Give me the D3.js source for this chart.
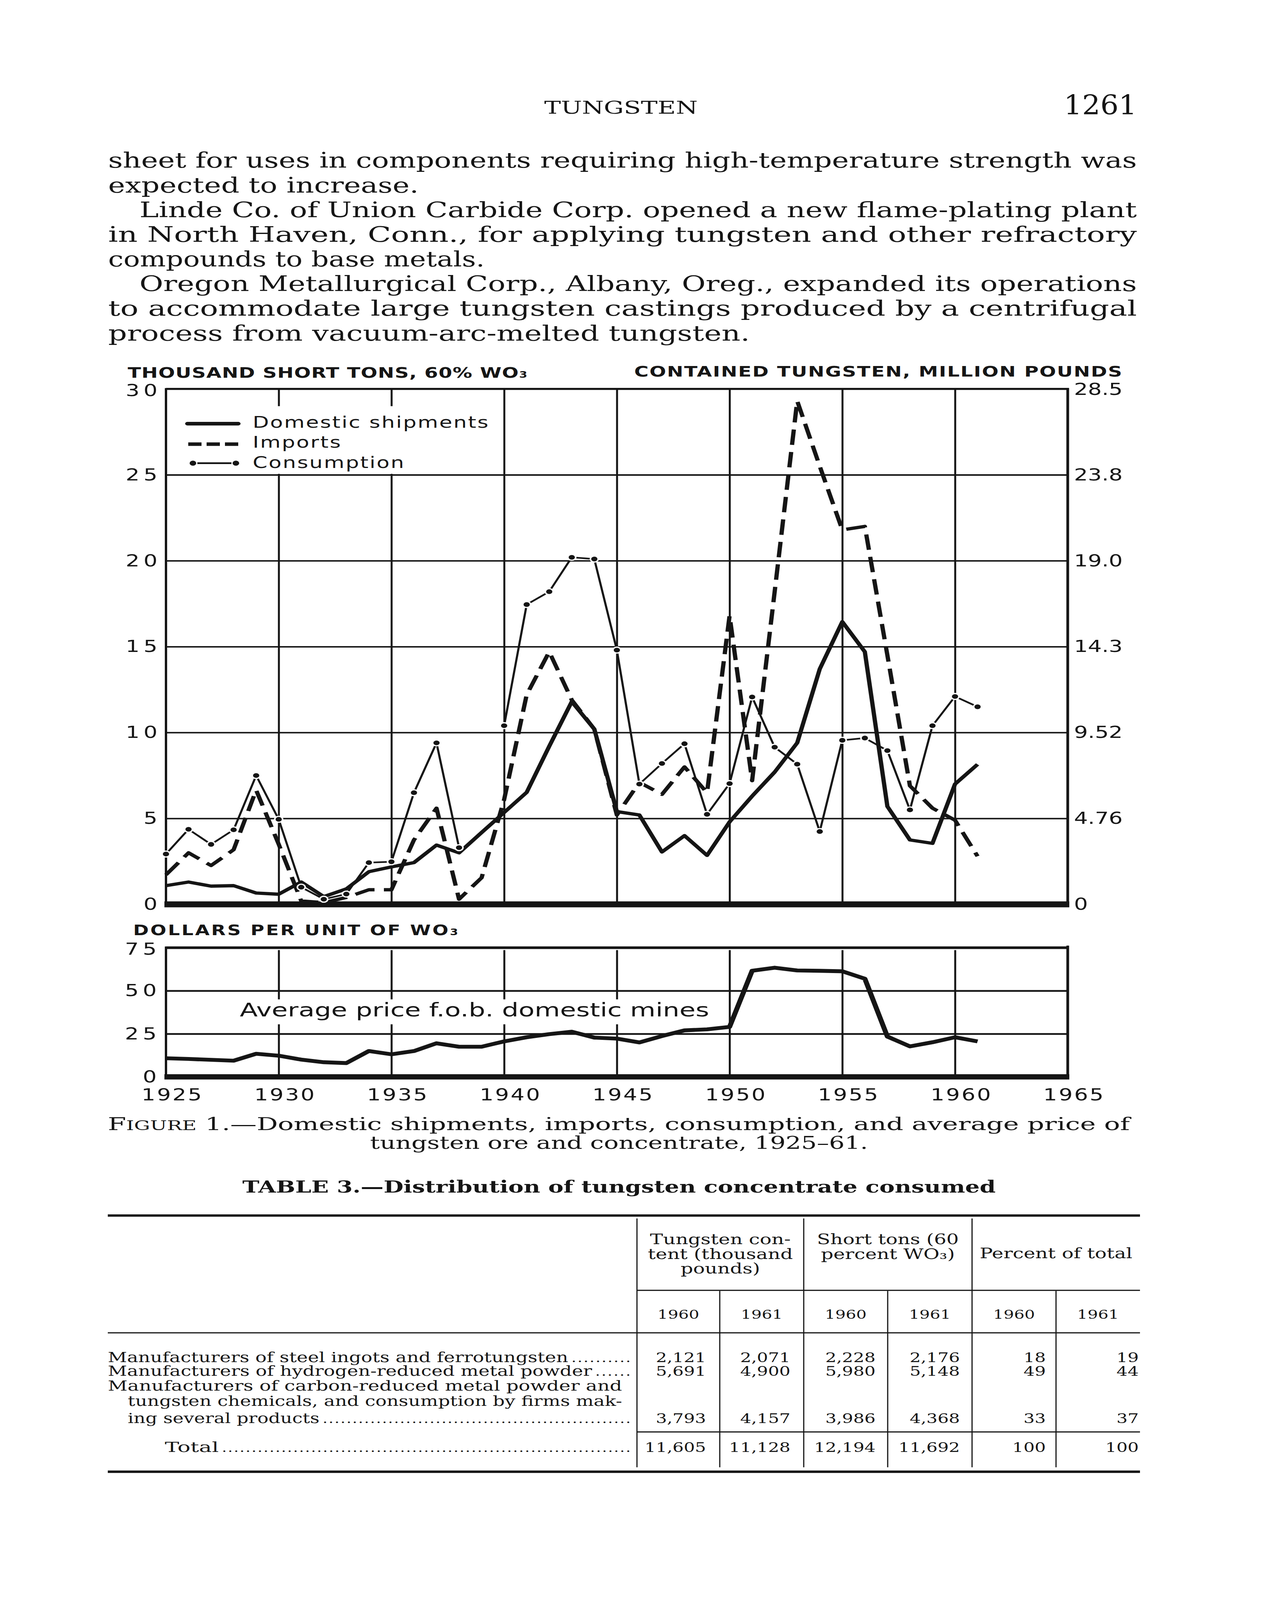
<!DOCTYPE html>
<html>
<head>
<meta charset="utf-8">
<script src="https://cdn.jsdelivr.net/npm/d3@7"></script>
<style>
  html, body { margin: 0; padding: 0; background: #fff; overflow: hidden; }
  svg { display: block; }
  .sans { font-family: "DejaVu Sans", sans-serif; }
  .serif { font-family: "DejaVu Serif", serif; }
</style>
</head>
<body>
<svg id="page"></svg>
<script>
// ---- data ----
const years = [1925,1926,1927,1928,1929,1930,1931,1932,1933,1934,1935,1936,1937,1938,1939,1940,1941,1942,1943,
  1944,1945,1946,1947,1948,1949,1950,1951,1952,1953,1954,1955,1956,1957,1958,1959,1960,1961];

// thousand short tons, 60% WO3
const domestic = [1.09,1.30,1.06,1.09,0.66,0.59,1.3,0.45,0.9,1.9,2.18,2.43,3.45,3.0,4.18,5.35,6.52,9.2,11.8,
  10.2,5.4,5.2,3.05,4.0,2.85,4.8,6.3,7.7,9.4,13.7,16.45,14.7,5.7,3.75,3.55,7.0,8.15];
const imports = [1.72,3.0,2.26,3.18,6.65,3.5,0.2,0.1,0.4,0.85,0.85,3.75,5.6,0.3,1.55,6.1,12.2,14.7,11.9,
  10.2,5.2,7.1,6.4,8.0,6.5,16.8,7.2,18.2,29.3,25.5,21.8,22.0,14.5,6.9,5.6,4.9,2.8];
const consumption = [2.93,4.37,3.49,4.34,7.5,4.95,1.0,0.3,0.6,2.43,2.48,6.5,9.4,3.3,null,10.4,17.45,18.2,20.2,
  20.1,14.8,7.0,8.2,9.35,5.24,7.03,12.07,9.15,8.16,4.24,9.55,9.68,8.95,5.5,10.4,12.1,11.5];

// dollars per unit of WO3
const price = [10.8,10.4,9.9,9.4,13.4,12.3,10.0,8.5,8.0,15.0,13.1,15.0,19.5,17.5,17.5,20.6,23.0,24.8,26.2,
  22.8,22.2,20.0,23.7,27.0,27.6,29.0,61.6,63.4,61.8,61.6,61.3,57.0,23.4,17.7,20.1,23.0,20.6];

const leftTicks = [0,5,10,15,20,25,30];
const rightTickLabels = ["0","4.76","9.52","14.3","19.0","23.8","28.5"];
const priceTicks = [0,25,50,75];
const yearTicks = [1925,1930,1935,1940,1945,1950,1955,1960,1965];
const gridYears = [1930,1935,1940,1945,1950,1955,1960];
const seriesNames = ["Domestic shipments","Imports","Consumption"];

const bodyLines = [
  "sheet for uses in components requiring high-temperature strength was",
  "expected to increase.",
  "Linde Co. of Union Carbide Corp. opened a new flame-plating plant",
  "in North Haven, Conn., for applying tungsten and other refractory",
  "compounds to base metals.",
  "Oregon Metallurgical Corp., Albany, Oreg., expanded its operations",
  "to accommodate large tungsten castings produced by a centrifugal",
  "process from vacuum-arc-melted tungsten."
];

const tableHead = [["Tungsten con-","tent (thousand","pounds)"],["Short tons (60","percent WO₃)"],["Percent of total"]];
const tableYears = ["1960","1961","1960","1961","1960","1961"];
const tableRows = [
  { label: ["Manufacturers of steel ingots and ferrotungsten"], values: ["2,121","2,071","2,228","2,176","18","19"] },
  { label: ["Manufacturers of hydrogen-reduced metal powder"], values: ["5,691","4,900","5,980","5,148","49","44"] },
  { label: ["Manufacturers of carbon-reduced metal powder and","tungsten chemicals, and consumption by firms mak-","ing several products"],
    values: ["3,793","4,157","3,986","4,368","33","37"] }
];
const tableTotal = ["11,605","11,128","12,194","11,692","100","100"];

// ---- page ----
// drawn in page units (3298 x 5389) and fitted to whatever viewport we get
const W = 3298, H = 5389;
const ink = "#151515";

const svg = d3.select("#page")
  .attr("width", window.innerWidth || W)
  .attr("height", window.innerHeight || H)
  .attr("viewBox", `0 0 ${W} ${H}`)
  .attr("preserveAspectRatio", "none");

svg.append("rect").attr("width", W).attr("height", H).attr("fill", "#fff");

// running head
svg.append("text").attr("class", "serif")
  .attr("x", 1590).attr("y", 383).attr("text-anchor", "middle")
  .attr("font-size", 58).attr("fill", ink)
  .attr("textLength", 393).attr("lengthAdjust", "spacingAndGlyphs")
  .text("TUNGSTEN");
svg.append("text").attr("class", "serif")
  .attr("x", 2911).attr("y", 386).attr("text-anchor", "end")
  .attr("font-size", 90).attr("fill", ink)
  .attr("textLength", 187).attr("lengthAdjust", "spacingAndGlyphs")
  .text("1261");

// body paragraph
const bodyLeft = [277,277,357,277,277,357,277,277];
const bodyRight = [2911,1072,2911,2911,1241,2911,2911,1920];
svg.append("g").selectAll("text")
  .data(bodyLines)
  .join("text")
  .attr("class", "serif")
  .attr("x", (d, i) => bodyLeft[i])
  .attr("y", (d, i) => 565 + i * 83.1)
  .attr("font-size", 72).attr("fill", ink)
  .attr("textLength", (d, i) => bodyRight[i] - bodyLeft[i])
  .attr("lengthAdjust", "spacingAndGlyphs")
  .text(d => d);

// ---- upper chart ----
const x = d3.scaleLinear().domain([1925, 1965]).range([425, 2734]);
const y = d3.scaleLinear().domain([0, 30]).range([3046, 1310]);
const yp = d3.scaleLinear().domain([0, 75]).range([3627, 3192]);

const up = svg.append("g");

up.append("g")
  .attr("transform", "translate(425,0)")
  .call(d3.axisLeft(y).tickValues([5,10,15,20,25]).tickSize(-(2734 - 425)).tickFormat(""))
  .call(g => g.select(".domain").remove())
  .selectAll("line").attr("stroke", ink).attr("stroke-width", 5);

up.append("g")
  .attr("transform", "translate(0,3046)")
  .call(d3.axisBottom(x).tickValues(gridYears).tickSize(-(3046 - 1310)).tickFormat(""))
  .call(g => g.select(".domain").remove())
  .selectAll("line").attr("stroke", ink).attr("stroke-width", 5);

// legend box hides grid
up.append("rect").attr("x", 430).attr("y", 1368).attr("width", 835).attr("height", 228).attr("fill", "#fff");

// frame
up.append("line").attr("x1", 425).attr("x2", 2737).attr("y1", 1310).attr("y2", 1310).attr("stroke", ink).attr("stroke-width", 7);
up.append("line").attr("x1", 425).attr("x2", 425).attr("y1", 1307).attr("y2", 3046).attr("stroke", ink).attr("stroke-width", 6);
up.append("line").attr("x1", 2734).attr("x2", 2734).attr("y1", 1307).attr("y2", 3046).attr("stroke", ink).attr("stroke-width", 7);
up.append("line").attr("x1", 421).attr("x2", 2738).attr("y1", 3046).attr("y2", 3046).attr("stroke", ink).attr("stroke-width", 20);

// axis labels
up.append("g")
  .attr("transform", "translate(425,0)")
  .call(d3.axisLeft(y).tickValues(leftTicks).tickSize(0).tickPadding(12))
  .call(g => g.select(".domain").remove())
  .call(g => g.selectAll("text")
    .attr("class", "sans").attr("font-size", 56).attr("fill", ink)
    .attr("letter-spacing", 10).attr("font-family", null)
    .attr("dy", d => d === 30 ? "0.42em" : "0.32em"));

up.append("g")
  .attr("transform", "translate(2734,0)")
  .call(d3.axisRight(y).tickValues(leftTicks).tickSize(0).tickPadding(16)
    .tickFormat((d, i) => rightTickLabels[i]))
  .call(g => g.select(".domain").remove())
  .call(g => g.selectAll("text")
    .attr("class", "sans").attr("font-size", 56).attr("fill", ink)
    .attr("font-family", null)
    .attr("dy", d => d === 30 ? "0.36em" : "0.32em"));

// titles
const t1 = up.append("text").attr("class", "sans").attr("x", 327).attr("y", 1272)
  .attr("font-size", 50).attr("font-weight", "bold").attr("fill", ink)
  .attr("textLength", 1023).attr("lengthAdjust", "spacing");
t1.append("tspan").text("THOUSAND SHORT TONS, 60% WO");
t1.append("tspan").attr("font-size", 30).text("3");

up.append("text").attr("class", "sans").attr("x", 1624).attr("y", 1268)
  .attr("font-size", 50).attr("font-weight", "bold").attr("fill", ink)
  .attr("textLength", 1249).attr("lengthAdjust", "spacing")
  .text("CONTAINED TUNGSTEN, MILLION POUNDS");

// series
const lineTop = d3.line()
  .defined(d => d[1] !== null)
  .x(d => x(d[0]))
  .y(d => y(d[1]));

const zip = vals => years.map((yr, i) => [yr, vals[i]]);

up.append("path").datum(zip(domestic))
  .attr("d", lineTop).attr("fill", "none")
  .attr("stroke", ink).attr("stroke-width", 11).attr("stroke-linejoin", "round");

up.append("path").datum(zip(imports))
  .attr("d", lineTop).attr("fill", "none")
  .attr("stroke", ink).attr("stroke-width", 11)
  .attr("stroke-dasharray", "52,24").attr("stroke-linejoin", "round");

up.append("path").datum(zip(consumption))
  .attr("d", lineTop).attr("fill", "none")
  .attr("stroke", ink).attr("stroke-width", 5.5).attr("stroke-linejoin", "round");

up.append("g").selectAll("circle")
  .data(zip(consumption).filter(d => d[1] !== null))
  .join("circle")
  .attr("cx", d => x(d[0])).attr("cy", d => y(d[1]))
  .attr("r", 10).attr("fill", ink)
  .attr("stroke", "#fff").attr("stroke-width", 4);

// legend
const leg = up.append("g");
const legY = [1427, 1496, 1560];
leg.append("line").attr("x1", 480).attr("x2", 610).attr("y1", legY[0]).attr("y2", legY[0])
  .attr("stroke", ink).attr("stroke-width", 12).attr("stroke-linecap", "round");
leg.append("line").attr("x1", 482).attr("x2", 610).attr("y1", legY[1]).attr("y2", legY[1])
  .attr("stroke", ink).attr("stroke-width", 12).attr("stroke-dasharray", "34,13");
leg.append("line").attr("x1", 494).attr("x2", 604).attr("y1", legY[2]).attr("y2", legY[2])
  .attr("stroke", ink).attr("stroke-width", 6);
leg.selectAll("circle").data([494, 604]).join("circle")
  .attr("cx", d => d).attr("cy", legY[2]).attr("r", 10).attr("fill", ink)
  .attr("stroke", "#fff").attr("stroke-width", 3);
leg.selectAll("text").data(seriesNames).join("text")
  .attr("class", "sans")
  .attr("x", 647).attr("y", (d, i) => [1441, 1508, 1576][i])
  .attr("font-size", 54).attr("fill", ink)
  .attr("letter-spacing", 3)
  .text(d => d);

// ---- lower chart (price) ----
const lo = svg.append("g");

const t2 = lo.append("text").attr("class", "sans").attr("x", 341).attr("y", 3150)
  .attr("font-size", 48).attr("font-weight", "bold").attr("fill", ink)
  .attr("textLength", 832).attr("lengthAdjust", "spacing");
t2.append("tspan").text("DOLLARS PER UNIT OF WO");
t2.append("tspan").attr("font-size", 30).text("3");

lo.append("g")
  .attr("transform", "translate(425,0)")
  .call(d3.axisLeft(yp).tickValues([25, 50]).tickSize(-(2734 - 425)).tickFormat(""))
  .call(g => g.select(".domain").remove())
  .selectAll("line").attr("stroke", ink).attr("stroke-width", 6);

lo.append("g")
  .attr("transform", "translate(0,3627)")
  .call(d3.axisBottom(x).tickValues(gridYears).tickSize(-(3627 - 3200)).tickFormat(""))
  .call(g => g.select(".domain").remove())
  .selectAll("line").attr("stroke", ink).attr("stroke-width", 5);

lo.append("rect").attr("x", 600).attr("y", 3366).attr("width", 1230).attr("height", 84).attr("fill", "#fff");
lo.append("text").attr("class", "sans").attr("x", 614).attr("y", 3424)
  .attr("font-size", 64).attr("fill", ink)
  .attr("textLength", 1202).attr("lengthAdjust", "spacingAndGlyphs")
  .text("Average price f.o.b. domestic mines");

lo.append("line").attr("x1", 425).attr("x2", 2737).attr("y1", 3192).attr("y2", 3192).attr("stroke", ink).attr("stroke-width", 9);
lo.append("line").attr("x1", 425).attr("x2", 425).attr("y1", 3188).attr("y2", 3627).attr("stroke", ink).attr("stroke-width", 6);
lo.append("line").attr("x1", 2734).attr("x2", 2734).attr("y1", 3185).attr("y2", 3627).attr("stroke", ink).attr("stroke-width", 7);
lo.append("line").attr("x1", 421).attr("x2", 2738).attr("y1", 3627).attr("y2", 3627).attr("stroke", ink).attr("stroke-width", 18);

const linePrice = d3.line().x(d => x(d[0])).y(d => yp(d[1]));
lo.append("path").datum(zip(price))
  .attr("d", linePrice).attr("fill", "none")
  .attr("stroke", ink).attr("stroke-width", 13).attr("stroke-linejoin", "round");

lo.append("g")
  .attr("transform", "translate(425,0)")
  .call(d3.axisLeft(yp).tickValues(priceTicks).tickSize(0).tickPadding(14))
  .call(g => g.select(".domain").remove())
  .call(g => g.selectAll("text")
    .attr("class", "sans").attr("font-size", 56).attr("fill", ink)
    .attr("letter-spacing", 10).attr("font-family", null)
    .attr("dy", d => d === 75 ? "0.42em" : "0.32em"));

lo.append("g")
  .attr("transform", "translate(0,3627)")
  .call(d3.axisBottom(x).tickValues(yearTicks).tickSize(0).tickFormat(d3.format("d")))
  .call(g => g.select(".domain").remove())
  .call(g => g.selectAll("text")
    .attr("class", "sans").attr("font-size", 56).attr("fill", ink)
    .attr("font-family", null)
    .attr("x", 16).attr("y", 79).attr("dy", 0)
    .attr("letter-spacing", 4));

// ---- caption ----
const cap = svg.append("text").attr("class", "serif").attr("x", 276).attr("y", 3806)
  .attr("font-size", 58).attr("fill", ink)
  .attr("textLength", 2617).attr("lengthAdjust", "spacingAndGlyphs");
cap.append("tspan").text("F");
cap.append("tspan").attr("font-size", 44).text("IGURE");
cap.append("tspan").text(" 1.—Domestic shipments, imports, consumption, and average price of");

svg.append("text").attr("class", "serif").attr("x", 1585).attr("y", 3869)
  .attr("text-anchor", "middle").attr("font-size", 58).attr("fill", ink)
  .attr("textLength", 1275).attr("lengthAdjust", "spacingAndGlyphs")
  .text("tungsten ore and concentrate, 1925–61.");

// ---- table ----
const tb = svg.append("g");
tb.append("text").attr("class", "serif").attr("x", 1585).attr("y", 4017)
  .attr("text-anchor", "middle").attr("font-size", 56).attr("font-weight", "bold").attr("fill", ink)
  .attr("textLength", 1929).attr("lengthAdjust", "spacingAndGlyphs")
  .text("TABLE 3.—Distribution of tungsten concentrate consumed");

const rule = (x1, x2, yy, w) => tb.append("line")
  .attr("x1", x1).attr("x2", x2).attr("y1", yy).attr("y2", yy)
  .attr("stroke", ink).attr("stroke-width", w);
const vline = (xx, y1, y2) => tb.append("line")
  .attr("x1", xx).attr("x2", xx).attr("y1", y1).attr("y2", y2)
  .attr("stroke", ink).attr("stroke-width", 3);

rule(276, 2919, 4094, 8);
rule(1631, 2919, 4346, 4);
rule(276, 2919, 4489, 4);
rule(1631, 2919, 4823, 4);
rule(276, 2919, 4957, 8);

const mainCols = [1631, 2058, 2489, 2919];
const subCols = [1631, 1843, 2058, 2273, 2489, 2704, 2919];
[1631, 2058, 2489].forEach(c => vline(c, 4104, 4942));
[1843, 2273, 2704].forEach(c => vline(c, 4348, 4942));

tableHead.forEach((lines, j) => {
  const cx = (mainCols[j] + mainCols[j + 1]) / 2;
  const y0 = lines.length === 1 ? 4238 : 4191;
  lines.forEach((ln, k) => {
    tb.append("text").attr("class", "serif")
      .attr("x", cx).attr("y", y0 + k * 49)
      .attr("text-anchor", "middle").attr("font-size", 50).attr("fill", ink)
      .text(ln);
  });
});

tableYears.forEach((t, j) => {
  tb.append("text").attr("class", "serif")
    .attr("x", (subCols[j] + subCols[j + 1]) / 2).attr("y", 4442)
    .attr("text-anchor", "middle").attr("font-size", 42).attr("fill", ink)
    .text(t);
});

const valRight = [1808, 2024, 2242, 2458, 2678, 2916];
const leader = (start, endX, yy) => {
  const n = Math.max(0, Math.floor((endX - start) / 15));
  if (n > 0) {
    tb.append("text").attr("class", "serif").attr("x", start).attr("y", yy)
      .attr("font-size", 40).attr("fill", ink)
      .attr("textLength", endX - start).attr("lengthAdjust", "spacing")
      .text(".".repeat(n));
  }
};

const rowY = [[4588], [4634], [4684, 4735, 4793]];
const labelX = [[276], [276], [276, 327, 327]];
const labelLen = [[1179], [1240], [1317, 1266, 491]];
tableRows.forEach((row, r) => {
  row.label.forEach((ln, k) => {
    tb.append("text").attr("class", "serif")
      .attr("x", labelX[r][k]).attr("y", rowY[r][k])
      .attr("font-size", 47).attr("fill", ink)
      .attr("textLength", labelLen[r][k]).attr("lengthAdjust", "spacingAndGlyphs")
      .text(ln);
    if (k === row.label.length - 1) leader(labelX[r][k] + labelLen[r][k] + 8, 1615, rowY[r][k]);
  });
  const yy = rowY[r][row.label.length - 1];
  row.values.forEach((v, j) => {
    tb.append("text").attr("class", "serif")
      .attr("x", valRight[j]).attr("y", yy)
      .attr("text-anchor", "end").attr("font-size", 45).attr("fill", ink)
      .text(v);
  });
});

tb.append("text").attr("class", "serif").attr("x", 422).attr("y", 4890)
  .attr("font-size", 47).attr("fill", ink)
  .attr("textLength", 138).attr("lengthAdjust", "spacingAndGlyphs")
  .text("Total");
leader(422 + 138 + 8, 1615, 4890);
tableTotal.forEach((v, j) => {
  tb.append("text").attr("class", "serif")
    .attr("x", valRight[j]).attr("y", 4890)
    .attr("text-anchor", "end").attr("font-size", 45).attr("fill", ink)
    .text(v);
});
</script>
</body>
</html>
